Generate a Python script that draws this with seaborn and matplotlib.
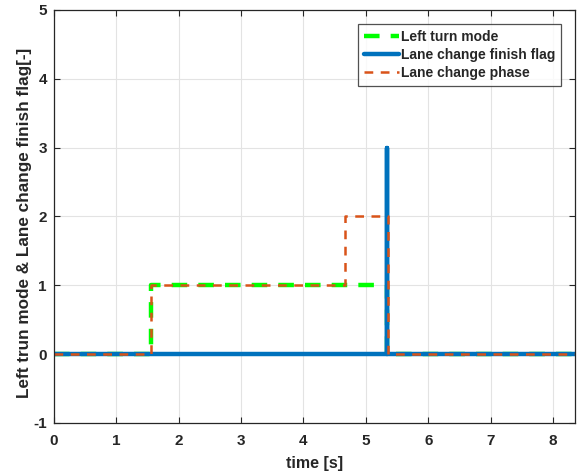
import matplotlib
matplotlib.use("Agg")
import matplotlib.pyplot as plt
import seaborn as sns
import pandas as pd

# Step signals (time in seconds, value held until next sample)
turn_t = [0.0, 1.55, 5.34, 8.35]
turn_v = [0, 1, 0, 0]

flag_t = [0.0, 5.335, 5.345, 8.35]
flag_v = [0, 3, 0, 0]

phase_t = [0.0, 1.56, 4.66, 5.35, 8.35]
phase_v = [0, 1, 2, 0, 0]

x_ticks = [0, 1, 2, 3, 4, 5, 6, 7, 8]
y_ticks = [-1, 0, 1, 2, 3, 4, 5]

sns.set_theme(style="whitegrid")
plt.rcParams["font.family"] = ["Liberation Sans", "DejaVu Sans"]
plt.rcParams["font.weight"] = "bold"

fig = plt.figure(figsize=(5.79, 4.71), dpi=100)
ax = fig.add_axes([0.093, 0.102, 0.900, 0.877])
ax.set_facecolor("white")

turn_df = pd.DataFrame({"t": turn_t, "v": turn_v})
flag_df = pd.DataFrame({"t": flag_t, "v": flag_v})
phase_df = pd.DataFrame({"t": phase_t, "v": phase_v})

sns.lineplot(data=turn_df, x="t", y="v", ax=ax, estimator=None, sort=False,
             drawstyle="steps-post", color="#00FF00", lw=3.2,
             dashes=False, linestyle=(0, (3.5, 2.5)), label="Left turn mode")
sns.lineplot(data=flag_df, x="t", y="v", ax=ax, estimator=None, sort=False,
             drawstyle="steps-post", color="#0072BD", lw=3.2,
             label="Lane change finish flag")
sns.lineplot(data=phase_df, x="t", y="v", ax=ax, estimator=None, sort=False,
             drawstyle="steps-post", color="#D95319", lw=1.8,
             linestyle=(0, (3.5, 3.0)), label="Lane change phase")

ax.set_xlim(0, 8.35)
ax.set_ylim(-1, 5)
ax.set_xticks(x_ticks)
ax.set_yticks(y_ticks)
ax.set_xticklabels([str(v) for v in x_ticks], fontsize=11, fontweight="bold")
ax.set_yticklabels([str(v) for v in y_ticks], fontsize=11, fontweight="bold")
ax.set_xlabel("time [s]", fontsize=11.5, fontweight="bold", labelpad=6)
ax.set_ylabel("Left trun mode & Lane change finish flag[-]", fontsize=12.3,
              fontweight="bold", labelpad=2)
ax.yaxis.set_label_coords(-0.042, 0.485)

ax.grid(True, color="#e3e3e3", lw=0.8)
for s in ax.spines.values():
    s.set_color("#262626")
    s.set_linewidth(0.9)
ax.tick_params(axis="both", direction="in", length=4, width=0.8, color="#262626",
               top=True, right=True, bottom=True, left=True, pad=5)
ax.tick_params(axis="x", pad=8)

leg = ax.legend(loc="upper right", bbox_to_anchor=(0.982, 0.975), fontsize=10,
                frameon=True, fancybox=False, handlelength=2.5, handletextpad=0.2,
                borderpad=0.4, labelspacing=0.3, borderaxespad=0.3)
leg.get_frame().set_edgecolor("#262626")
leg.get_frame().set_linewidth(0.9)
for txt in leg.get_texts():
    txt.set_fontweight("bold")

fig.savefig("out.png", dpi=100)
